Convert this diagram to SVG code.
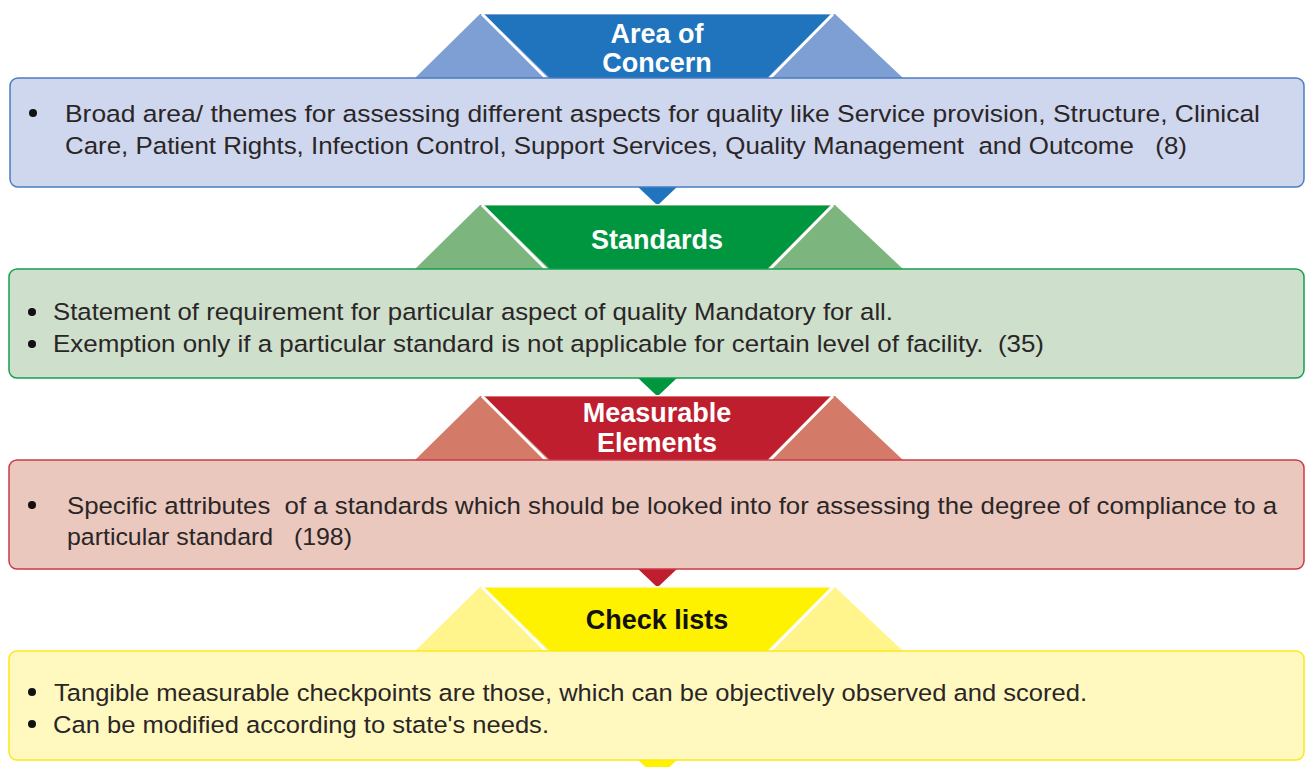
<svg xmlns="http://www.w3.org/2000/svg" width="1306" height="767" viewBox="0 0 1306 767">
<style>
.title{font-family:"Liberation Sans",Arial,sans-serif;font-weight:bold;font-size:27px;text-anchor:middle}
.body{font-family:"Liberation Sans",Arial,sans-serif;font-size:24.5px;fill:#2a2627;white-space:pre}
.sep{stroke:#ffffff;stroke-width:3;fill:none}
.bul{fill:#111}
.blue .light{fill:#7d9fd3}.blue .dark{fill:#1f74bd}.blue .box{fill:#cfd7ee;stroke:#4a7ec1}
.green .light{fill:#7db57e}.green .dark{fill:#009640}.green .box{fill:#cedfcc;stroke:#13a050}
.red .light{fill:#d37a68}.red .dark{fill:#be1e2d}.red .box{fill:#ebc8bd;stroke:#cc3a48}
.yellow .light{fill:#fff58c}.yellow .dark{fill:#fff200}.yellow .box{fill:#fff8bf;stroke:#fbe918}
.box{stroke-width:1.5}
</style>
<rect width="1306" height="767" fill="#ffffff"/>
<g id="connectors">
<polygon points="637,186 678,186 659,204 656,204" fill="#1f74bd"/>
<polygon points="637,377 678,377 659,395 656,395" fill="#009640"/>
<polygon points="637,568 678,568 659,586 656,586" fill="#be1e2d"/>
<polygon points="637,759 678,759 659,777 656,777" fill="#fff200"/>
</g>
<g id="area-of-concern" class="blue">
<polygon class="light" points="415,78 480,14 835,14 903,78"/>
<polygon class="dark" points="485,15 830,15 767,78 550,78"/>
<line class="sep" x1="482" y1="14" x2="547" y2="79"/>
<line class="sep" x1="833" y1="14" x2="769" y2="79"/>
<text class="title" x="657" y="43" fill="#ffffff">Area of</text>
<text class="title" x="657" y="72" fill="#ffffff">Concern</text>
<rect class="box" x="10" y="78" width="1294" height="109" rx="8"/>
<circle class="bul" cx="33" cy="113" r="4"/>
<text class="body" x="65" y="122" textLength="1195" lengthAdjust="spacingAndGlyphs">Broad area/ themes for assessing different aspects for quality like Service provision, Structure, Clinical</text>
<text class="body" x="65" y="154" textLength="1122" lengthAdjust="spacingAndGlyphs">Care, Patient Rights, Infection Control, Support Services, Quality Management  and Outcome   (8)</text>
</g>
<g id="standards" class="green">
<polygon class="light" points="415,269 480,205 835,205 903,269"/>
<polygon class="dark" points="485,206 830,206 767,269 550,269"/>
<line class="sep" x1="482" y1="205" x2="547" y2="270"/>
<line class="sep" x1="833" y1="205" x2="769" y2="270"/>
<text class="title" x="657" y="249" fill="#ffffff">Standards</text>
<rect class="box" x="9" y="269" width="1295" height="109" rx="8"/>
<circle class="bul" cx="32" cy="312" r="4"/>
<text class="body" x="53" y="320" textLength="840" lengthAdjust="spacingAndGlyphs">Statement of requirement for particular aspect of quality Mandatory for all.</text>
<circle class="bul" cx="32" cy="344" r="4"/>
<text class="body" x="53" y="352" textLength="991" lengthAdjust="spacingAndGlyphs">Exemption only if a particular standard is not applicable for certain level of facility.  (35)</text>
</g>
<g id="measurable-elements" class="red">
<polygon class="light" points="415,460 480,396 835,396 903,460"/>
<polygon class="dark" points="485,397 830,397 767,460 550,460"/>
<line class="sep" x1="482" y1="396" x2="547" y2="461"/>
<line class="sep" x1="833" y1="396" x2="769" y2="461"/>
<text class="title" x="657" y="422" fill="#ffffff">Measurable</text>
<text class="title" x="657" y="452" fill="#ffffff">Elements</text>
<rect class="box" x="9" y="460" width="1295" height="109" rx="8"/>
<circle class="bul" cx="32" cy="505" r="4"/>
<text class="body" x="67" y="514" textLength="1210" lengthAdjust="spacingAndGlyphs">Specific attributes  of a standards which should be looked into for assessing the degree of compliance to a</text>
<text class="body" x="67" y="545" textLength="285" lengthAdjust="spacingAndGlyphs">particular standard   (198)</text>
</g>
<g id="check-lists" class="yellow">
<polygon class="light" points="415,651 480,587 835,587 903,651"/>
<polygon class="dark" points="485,588 830,588 767,651 550,651"/>
<line class="sep" x1="482" y1="587" x2="547" y2="652"/>
<line class="sep" x1="833" y1="587" x2="769" y2="652"/>
<text class="title" x="657" y="629" fill="#111111">Check lists</text>
<rect class="box" x="9" y="651" width="1295" height="109" rx="8"/>
<circle class="bul" cx="32" cy="692" r="4"/>
<text class="body" x="54" y="701" textLength="1033" lengthAdjust="spacingAndGlyphs">Tangible measurable checkpoints are those, which can be objectively observed and scored.</text>
<circle class="bul" cx="32" cy="724" r="4"/>
<text class="body" x="53" y="733" textLength="496" lengthAdjust="spacingAndGlyphs">Can be modified according to state's needs.</text>
</g>
</svg>
